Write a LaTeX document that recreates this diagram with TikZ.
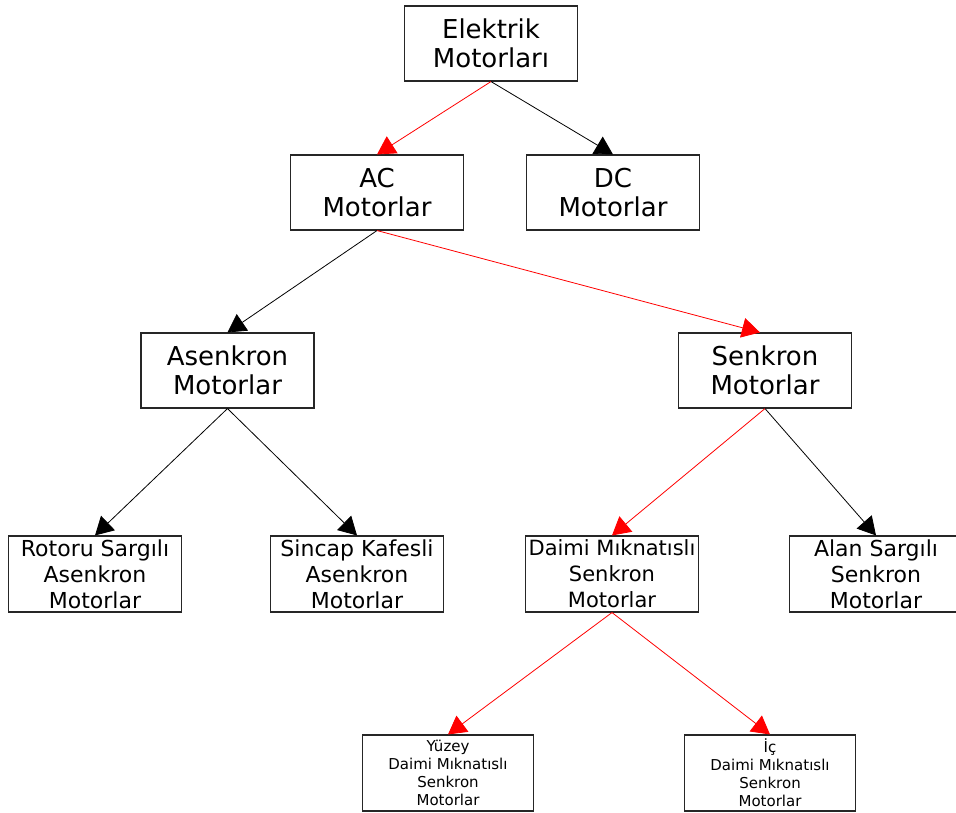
\documentclass[tikz,border=0pt]{standalone}
\usepackage{fontspec}
\setmainfont{DejaVu Sans}
\usetikzlibrary{arrows.meta}
\tikzset{
  boxbig/.style={draw=black!85, line width=1.1pt, minimum width=173pt, minimum height=75pt, inner sep=0pt, align=center, font=\fontsize{26}{29.5}\selectfont},
  boxmid/.style={draw=black!85, line width=1.1pt, minimum width=173pt, minimum height=76pt, inner sep=0pt, align=center, font=\fontsize{22}{26}\selectfont},
  boxsmall/.style={draw=black!85, line width=1.1pt, minimum width=171pt, minimum height=76pt, inner sep=0pt, align=center, font=\fontsize{15}{18}\selectfont},
  redarr/.style={draw=red, line width=0.8pt, -{Triangle[length=18pt,width=20pt]}},
  blackarr/.style={draw=black, line width=0.8pt, -{Triangle[length=18pt,width=20pt]}}
}
\begin{document}
\begin{tikzpicture}[x=1pt,y=-1pt]
\useasboundingbox (0,0) rectangle (956,812);
\node[boxbig] (E) at (491,43.5) {Elektrik\\Motorları};
\node[boxbig] (AC) at (377,192.5) {AC\\Motorlar};
\node[boxbig] (DC) at (613,192.5) {DC\\Motorlar};
\node[boxbig] (As) at (227.5,370.5) {Asenkron\\Motorlar};
\node[boxbig] (Sk) at (765,370.5) {Senkron\\Motorlar};
\node[boxmid] (Ro) at (95,574) {Rotoru Sargılı\\Asenkron\\Motorlar};
\node[boxmid] (Si) at (357,574) {Sincap Kafesli\\Asenkron\\Motorlar};
\node[boxmid, font=\fontsize{21}{26}\selectfont] (Da) at (612,574) {Daimi Mıknatıslı\\Senkron\\Motorlar};
\node[boxmid] (Al) at (876,574) {Alan Sargılı\\Senkron\\Motorlar};
\node[boxsmall] (Yu) at (448,773) {Yüzey\\Daimi Mıknatıslı\\Senkron\\Motorlar};
\node[boxsmall] (Ic) at (770,773) {İç\\Daimi Mıknatıslı\\Senkron\\Motorlar};
\draw[redarr] (E.south) -- (AC.north);
\draw[blackarr] (E.south) -- (DC.north);
\draw[blackarr] (AC.south) -- (As.north);
\draw[redarr] (AC.south) -- ([xshift=-5pt]Sk.north);
\draw[blackarr] (As.south) -- (Ro.north);
\draw[blackarr] (As.south) -- (Si.north);
\draw[redarr] (Sk.south) -- (Da.north);
\draw[blackarr] (Sk.south) -- (Al.north);
\draw[redarr] (Da.south) -- (Yu.north);
\draw[redarr] (Da.south) -- (Ic.north);
\end{tikzpicture}
\end{document}
